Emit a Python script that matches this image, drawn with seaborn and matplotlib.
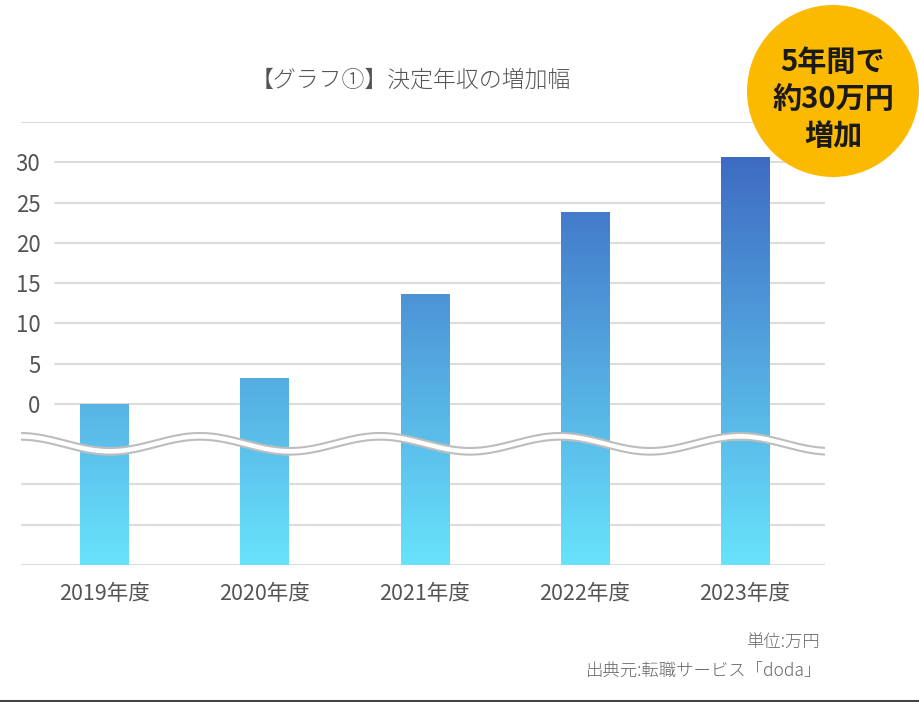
import numpy as np
import pandas as pd
import seaborn as sns
import matplotlib.pyplot as plt
from matplotlib.colors import LinearSegmentedColormap
from matplotlib.patches import Ellipse
from matplotlib.lines import Line2D

years = ["2019年度", "2020年度", "2021年度", "2022年度", "2023年度"]
increase = [0.0, 3.2, 13.6, 23.8, 30.7]
y_labels = [0, 5, 10, 15, 20, 25, 30]
grid_plain = [-20, -15, -10, 35]  # 目盛り数字なしの線
floor = -20  # 波線より下は省略部分
ceiling = 35

title = "【グラフ①】決定年収の増加幅"
badge = "5年間で\n約30万円\n増加"
unit_note = "単位:万円"
source_note = "出典元:転職サービス「doda」"

sns.set_theme(style="white")
plt.rcParams["font.family"] = ["Noto Sans CJK JP", "DejaVu Sans"]

df = pd.DataFrame({"year": years, "increase": increase})
df["height"] = df["increase"] - floor

W, H = 920, 702
fig = plt.figure(figsize=(W / 100, H / 100), dpi=100)
fig.patch.set_facecolor("white")
ax = fig.add_axes([21 / W, 137 / H, 804 / W, 443 / H])

sns.barplot(data=df, x="year", y="height", width=0.3, color="#4a90d9",
            saturation=1, ax=ax, zorder=3)

# bars get a vertical gradient over the whole plot height
cmap = LinearSegmentedColormap.from_list("bars", ["#68e3fc", "#3e6bc2"])
grad = np.linspace(0, 1, 256).reshape(-1, 1)
top = df["height"].max()
for bar in ax.patches:
    bar.set_facecolor("none")
    bar.set_edgecolor("none")
    im = ax.imshow(grad, cmap=cmap, origin="lower", aspect="auto",
                   extent=[-0.6, 4.6, 0, top], zorder=3)
    im.set_clip_path(bar)

ax.set_xlim(-0.52, 4.5)
ax.set_ylim(0, ceiling - floor)

for v in y_labels:
    ax.axhline(v - floor, xmin=34 / 804, xmax=1, color="#dcdcdc", lw=1.5, zorder=1)
for v in grid_plain:
    ax.axhline(v - floor, xmin=0, xmax=1, color="#dcdcdc", lw=1.5, zorder=1)

ax.set_yticks([v - floor for v in y_labels])
ax.set_yticklabels([str(v) for v in y_labels])
ax.tick_params(axis="y", length=0, pad=-14, labelsize=16, colors="#555555")
ax.tick_params(axis="x", length=0, pad=13, labelsize=15.5, colors="#555555")
ax.set_xlabel("")
ax.set_ylabel("")
sns.despine(ax=ax, left=True, bottom=True)

# axis break (wavy band)
xs = np.linspace(-0.52, 4.5, 500)
wave_top = 15.46 + 0.93 * np.cos(2 * np.pi * (xs - 0.598) / 1.124)
gap = 0.83
ax.fill_between(xs, wave_top - gap, wave_top, color="white", zorder=4, lw=0)
ax.plot(xs, wave_top, color="#bdbdbd", lw=1.5, zorder=5)
ax.plot(xs, wave_top - gap, color="#bdbdbd", lw=1.5, zorder=5)

fig.text(411 / W, 1 - 80 / H, title, ha="center", va="center",
         fontsize=16.5, fontweight="light", color="#555555")

fig.add_artist(Ellipse((833 / W, 1 - 91 / H), 172 / W, 172 / H,
                       transform=fig.transFigure, color="#fbba00", lw=0))
fig.text(833 / W, 1 - 99 / H, badge, ha="center", va="center", fontsize=21,
         fontweight="bold", linespacing=1.3, color="#1a1a1a")

fig.text(820 / W, 1 - 643 / H, unit_note, ha="right", va="center",
         fontsize=12.5, fontweight="light", color="#666666")
fig.text(822 / W, 1 - 672 / H, source_note, ha="right", va="center",
         fontsize=12.5, fontweight="light", color="#666666")

fig.add_artist(Line2D([0, 1], [1 - 700.5 / H] * 2, transform=fig.transFigure,
                      color="#444444", lw=1.5))

fig.savefig("out.png", dpi=100)
